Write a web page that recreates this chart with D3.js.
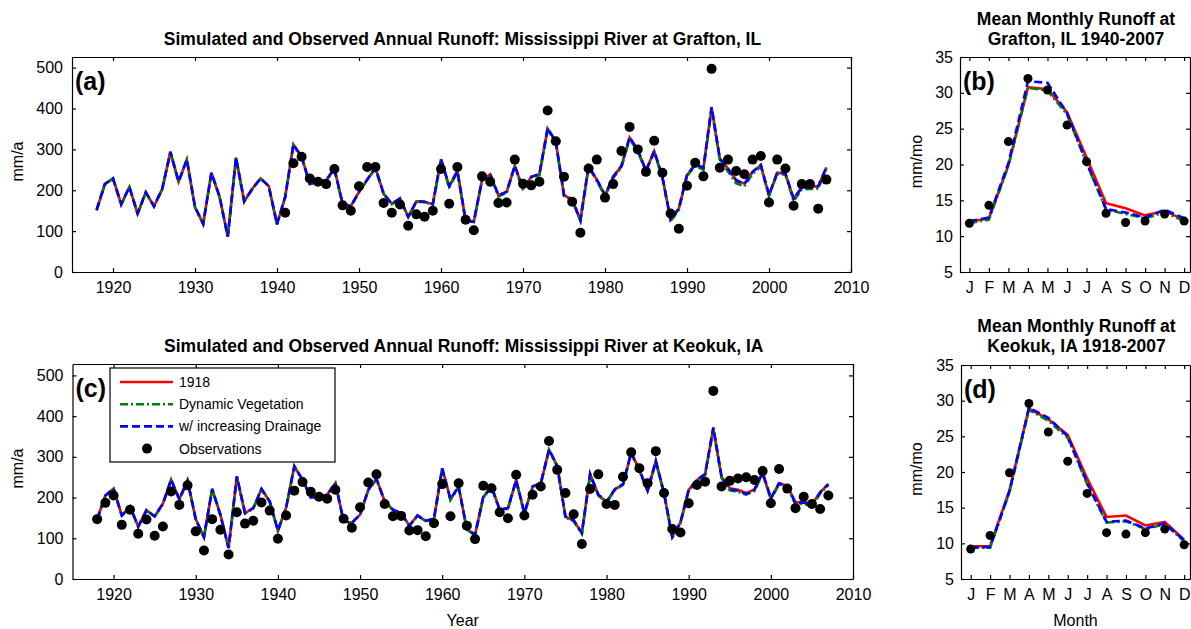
<!DOCTYPE html>
<html>
<head>
<meta charset="utf-8">
<script src="https://cdn.jsdelivr.net/npm/d3@7"></script>
<style>
body { margin: 0; background: #fff; }
svg text { font-family: "Liberation Sans", Arial, sans-serif; fill: #000; }
.axis path, .axis line { stroke: #000; stroke-width: 1.2; }
.axis text { font-size: 16px; }
</style>
</head>
<body>
<svg width="1191" height="629"></svg>
<script>
// annual values, mm/a
var simYears = d3.range(1918, 2008);
var graftonObsYears = d3.range(1941, 2008);
var keokukObsYears = d3.range(1918, 2008);

var grafton1918 = [151, 215,
  229, 166, 208, 143, 195, 161, 203, 294, 221, 275,
  159, 118, 243, 184, 86, 280, 173, 204, 229, 210,
  117, 184, 312, 282, 216, 221, 225, 253, 167, 161,
  196, 226, 255, 192, 167, 180, 135, 173, 172, 166,
  276, 210, 247, 127, 123, 225, 239, 188, 196, 260,
  204, 233, 239, 351, 319, 188, 177, 127, 259, 226,
  188, 233, 259, 329, 298, 248, 296, 233, 128, 155,
  237, 263, 255, 402, 278, 253, 225, 216, 245, 261,
  188, 243, 241, 180, 207, 208, 210, 256];
var graftonDynVeg = [151, 214,
  228, 165, 207, 142, 194, 160, 202, 292, 220, 273,
  158, 117, 242, 183, 86, 278, 172, 203, 228, 209,
  116, 183, 309, 280, 215, 220, 224, 251, 166, 160,
  195, 225, 253, 191, 166, 179, 134, 172, 171, 165,
  273, 206, 245, 125, 122, 223, 237, 185, 194, 257,
  201, 231, 237, 347, 316, 186, 175, 125, 256, 223,
  185, 230, 256, 325, 295, 245, 293, 230, 124, 152,
  235, 260, 250, 398, 275, 246, 217, 210, 240, 258,
  186, 240, 238, 174, 202, 203, 204, 252];
var graftonDrainage = [152, 215,
  229, 166, 208, 143, 195, 161, 203, 294, 221, 275,
  159, 118, 243, 184, 87, 280, 173, 204, 229, 210,
  117, 184, 312, 282, 216, 221, 225, 253, 167, 161,
  196, 226, 255, 192, 167, 180, 135, 173, 172, 166,
  276, 210, 247, 127, 123, 225, 239, 188, 196, 260,
  204, 233, 239, 352, 319, 188, 177, 127, 259, 226,
  188, 233, 259, 330, 298, 248, 296, 233, 128, 155,
  237, 263, 255, 404, 278, 252, 224, 215, 245, 262,
  188, 243, 241, 179, 206, 207, 209, 256];
var graftonObs = [145, 266, 282, 229, 221, 215, 252, 163, 150,
  210, 257, 257, 169, 145, 165, 113, 141, 135, 150,
  252, 167, 257, 128, 102, 234, 221, 169, 170, 275,
  216, 212, 221, 395, 320, 233, 172, 96, 253, 275,
  182, 215, 296, 355, 300, 245, 321, 243, 143, 106,
  211, 267, 234, 497, 255, 275, 247, 239, 275, 284,
  170, 275, 253, 162, 215, 215, 155, 226];

var keokuk1918 = [147, 205,
  222, 156, 178, 129, 169, 154, 185, 244, 196, 242,
  147, 103, 221, 158, 76, 252, 162, 174, 221, 191,
  119, 175, 277, 244, 201, 201, 207, 236, 142, 138,
  158, 219, 246, 191, 170, 162, 131, 156, 143, 148,
  272, 196, 227, 122, 109, 202, 227, 170, 174, 243,
  162, 227, 235, 318, 278, 153, 144, 113, 258, 207,
  190, 220, 233, 310, 268, 217, 290, 211, 103, 139,
  219, 243, 258, 371, 251, 223, 219, 211, 220, 261,
  198, 235, 229, 188, 190, 183, 213, 233];
var keokukDynVeg = [146, 204,
  221, 155, 177, 128, 168, 153, 184, 242, 195, 241,
  146, 102, 220, 157, 75, 250, 161, 173, 220, 190,
  118, 174, 275, 242, 200, 200, 206, 234, 141, 137,
  157, 218, 244, 190, 169, 161, 130, 155, 142, 147,
  270, 194, 225, 121, 107, 200, 225, 168, 172, 241,
  160, 225, 233, 315, 276, 151, 142, 111, 255, 205,
  188, 218, 231, 307, 266, 215, 287, 209, 101, 137,
  217, 241, 255, 367, 248, 218, 214, 207, 216, 258,
  196, 232, 226, 183, 185, 178, 210, 230];
var keokukDrainage = [147, 205,
  222, 156, 178, 129, 169, 154, 185, 244, 196, 242,
  147, 103, 221, 158, 76, 252, 162, 174, 221, 191,
  119, 175, 277, 244, 201, 201, 207, 236, 142, 138,
  158, 219, 246, 191, 170, 162, 131, 156, 143, 148,
  272, 196, 227, 122, 109, 202, 227, 170, 174, 243,
  162, 227, 235, 318, 278, 153, 144, 113, 258, 207,
  190, 220, 233, 310, 268, 217, 290, 211, 103, 139,
  219, 243, 258, 372, 251, 221, 217, 209, 219, 261,
  198, 235, 229, 186, 188, 180, 213, 233];
var keokukObs = [147, 187,
  205, 133, 170, 111, 146, 106, 129, 215, 182, 230,
  117, 70, 147, 121, 60, 164, 136, 143, 188, 168,
  99, 156, 217, 238, 214, 202, 197, 219, 148, 126,
  176, 237, 257, 184, 154, 155, 119, 120, 105, 137,
  233, 154, 235, 131, 98, 229, 223, 164, 149, 256,
  156, 207, 227, 339, 268, 211, 159, 86, 221, 257,
  184, 182, 251, 311, 272, 235, 314, 211, 123, 114,
  186, 231, 239, 462, 227, 241, 247, 250, 243, 265,
  186, 270, 222, 174, 202, 184, 172, 205];

// mean monthly values, mm/mo
var months = ["J", "F", "M", "A", "M", "J", "J", "A", "S", "O", "N", "D"];
var monthNums = [1, 2, 3, 4, 5, 6, 7, 8, 9, 10, 11, 12];

var graftonMon1918 = [12.0, 12.5, 19.9, 30.8, 30.5, 27.3, 21.0, 14.6, 13.9, 12.9, 13.5, 12.3];
var graftonMonDynVeg = [11.8, 12.3, 19.8, 30.7, 30.3, 27.0, 20.2, 13.7, 13.1, 12.5, 13.3, 12.1];
var graftonMonDrainage = [12.1, 12.6, 20.2, 31.6, 31.4, 27.2, 20.3, 13.8, 13.3, 12.6, 13.7, 12.5];
var graftonMonObs = [11.8, 14.3, 23.2, 32.0, 30.4, 25.5, 20.4, 13.2, 11.9, 12.1, 13.1, 12.1];

var keokukMon1918 = [9.6, 9.6, 17.5, 28.9, 27.4, 25.2, 19.1, 13.7, 13.9, 12.5, 13.0, 10.5];
var keokukMonDynVeg = [9.4, 9.4, 17.2, 28.7, 27.2, 24.8, 18.3, 12.9, 13.1, 12.0, 12.7, 10.3];
var keokukMonDrainage = [9.4, 9.5, 17.3, 29.0, 27.6, 25.0, 18.5, 13.0, 13.2, 12.1, 12.8, 10.4];
var keokukMonObs = [9.2, 11.1, 19.9, 29.6, 25.6, 21.5, 17.0, 11.5, 11.3, 11.5, 12.0, 9.8];

var seriesNames = ["1918", "Dynamic Vegetation", "w/ increasing Drainage", "Observations"];
var seriesColors = ["#ff0000", "#008000", "#0000ff"];
var seriesDash = [null, "8,3,2,3", "8,4"];

var svg = d3.select("svg");

function panel(p) {
  var x = d3.scaleLinear().domain(p.xDomain).range([p.left, p.right]),
      y = d3.scaleLinear().domain(p.yDomain).range([p.bottom, p.top]);

  var g = svg.append("g");

  g.append("g")
      .attr("class", "axis")
      .attr("transform", "translate(0," + p.bottom + ")")
      .call(d3.axisBottom(x).tickValues(p.xTicks).tickFormat(p.xFormat)
        .tickSizeInner(-4).tickSizeOuter(0).tickPadding(10));
  g.append("g")
      .attr("class", "axis")
      .attr("transform", "translate(0," + p.top + ")")
      .call(d3.axisTop(x).tickValues(p.xTicks).tickFormat("")
        .tickSizeInner(-4).tickSizeOuter(0));
  g.append("g")
      .attr("class", "axis")
      .attr("transform", "translate(" + p.left + ",0)")
      .call(d3.axisLeft(y).tickValues(p.yTicks)
        .tickSizeInner(-4).tickSizeOuter(0).tickPadding(p.yPad));
  g.append("g")
      .attr("class", "axis")
      .attr("transform", "translate(" + p.right + ",0)")
      .call(d3.axisRight(y).tickValues(p.yTicks).tickFormat("")
        .tickSizeInner(-4).tickSizeOuter(0));
  g.selectAll(".axis text").attr("font-family", null);

  var line = d3.line()
      .x(function(d, i) { return x(p.xs[i]); })
      .y(function(d) { return y(d); });

  p.series.forEach(function(s, i) {
    g.append("path")
        .datum(s)
        .attr("fill", "none")
        .attr("stroke", seriesColors[i])
        .attr("stroke-width", 2.6)
        .attr("stroke-dasharray", seriesDash[i])
        .attr("d", line);
  });

  g.selectAll(".dot")
    .data(p.obs)
    .enter().append("circle")
      .attr("class", "dot")
      .attr("cx", function(d, i) { return x(p.obsXs[i]); })
      .attr("cy", function(d) { return y(d); })
      .attr("r", p.r)
      .attr("fill", "#000");

  p.title.forEach(function(t, i) {
    g.append("text")
        .attr("x", (p.left + p.right) / 2 + 1)
        .attr("y", p.titleY + i * 20)
        .attr("text-anchor", "middle")
        .attr("font-weight", "bold")
        .attr("font-size", "17.5px")
        .text(t);
  });

  g.append("text")
      .attr("x", p.left + 3)
      .attr("y", p.top + 33)
      .attr("font-weight", "bold")
      .attr("font-size", "25px")
      .text(p.label);

  g.append("text")
      .attr("transform", "translate(" + p.yLabelX + "," + ((p.top + p.bottom) / 2 - 3) + ")rotate(-90)")
      .attr("text-anchor", "middle")
      .attr("font-size", "16px")
      .text(p.yLabel);

  if (p.xLabel) {
    g.append("text")
        .attr("x", (p.left + p.right) / 2)
        .attr("y", 626)
        .attr("text-anchor", "middle")
        .attr("font-size", "16px")
        .text(p.xLabel);
  }
  return g;
}

var decades = [1920, 1930, 1940, 1950, 1960, 1970, 1980, 1990, 2000, 2010];

panel({
  left: 72, right: 851, top: 57, bottom: 272,
  xDomain: [1915, 2010], yDomain: [0, 526],
  xTicks: decades, xFormat: d3.format("d"), yTicks: [0, 100, 200, 300, 400, 500], yPad: 9,
  xs: simYears, series: [grafton1918, graftonDynVeg, graftonDrainage],
  obsXs: graftonObsYears, obs: graftonObs, r: 5,
  title: ["Simulated and Observed Annual Runoff: Mississippi River at Grafton, IL"], titleY: 45,
  label: "(a)", yLabel: "mm/a", yLabelX: 23
});

var gc = panel({
  left: 72.5, right: 853, top: 364, bottom: 579,
  xDomain: [1915, 2010], yDomain: [0, 528],
  xTicks: decades, xFormat: d3.format("d"), yTicks: [0, 100, 200, 300, 400, 500], yPad: 9,
  xs: simYears, series: [keokuk1918, keokukDynVeg, keokukDrainage],
  obsXs: keokukObsYears, obs: keokukObs, r: 5,
  title: ["Simulated and Observed Annual Runoff: Mississippi River at Keokuk, IA"], titleY: 352,
  label: "(c)", yLabel: "mm/a", yLabelX: 23, xLabel: "Year"
});

panel({
  left: 960, right: 1190, top: 57, bottom: 272,
  xDomain: [0.52, 12.3], yDomain: [5, 35],
  xTicks: monthNums, xFormat: function(d, i) { return months[i]; }, yTicks: [5, 10, 15, 20, 25, 30, 35], yPad: 7,
  xs: monthNums, series: [graftonMon1918, graftonMonDynVeg, graftonMonDrainage],
  obsXs: monthNums, obs: graftonMonObs, r: 4.5,
  title: ["Mean Monthly Runoff at", "Grafton, IL 1940-2007"], titleY: 25,
  label: "(b)", yLabel: "mm/mo", yLabelX: 922
});

panel({
  left: 961, right: 1190, top: 365, bottom: 579,
  xDomain: [0.5, 12.3], yDomain: [5, 35],
  xTicks: monthNums, xFormat: function(d, i) { return months[i]; }, yTicks: [5, 10, 15, 20, 25, 30, 35], yPad: 7,
  xs: monthNums, series: [keokukMon1918, keokukMonDynVeg, keokukMonDrainage],
  obsXs: monthNums, obs: keokukMonObs, r: 4.5,
  title: ["Mean Monthly Runoff at", "Keokuk, IA 1918-2007"], titleY: 332,
  label: "(d)", yLabel: "mm/mo", yLabelX: 922, xLabel: "Month"
});

// legend in panel (c)
var legend = gc.append("g").attr("transform", "translate(110,368)");
legend.append("rect")
    .attr("width", 225).attr("height", 94)
    .attr("fill", "#fff").attr("stroke", "#000").attr("stroke-width", 1.2);
seriesNames.forEach(function(name, i) {
  var row = legend.append("g").attr("transform", "translate(0," + (14 + i * 22.2) + ")");
  if (i < 3) {
    row.append("line")
        .attr("x1", 10).attr("x2", 63)
        .attr("stroke", seriesColors[i])
        .attr("stroke-width", 2.6)
        .attr("stroke-dasharray", seriesDash[i]);
  } else {
    row.append("circle").attr("cx", 37).attr("r", 5).attr("fill", "#000");
  }
  row.append("text")
      .attr("x", 69)
      .attr("dy", "0.35em")
      .attr("font-size", "14px")
      .text(name);
});
</script>
</body>
</html>
